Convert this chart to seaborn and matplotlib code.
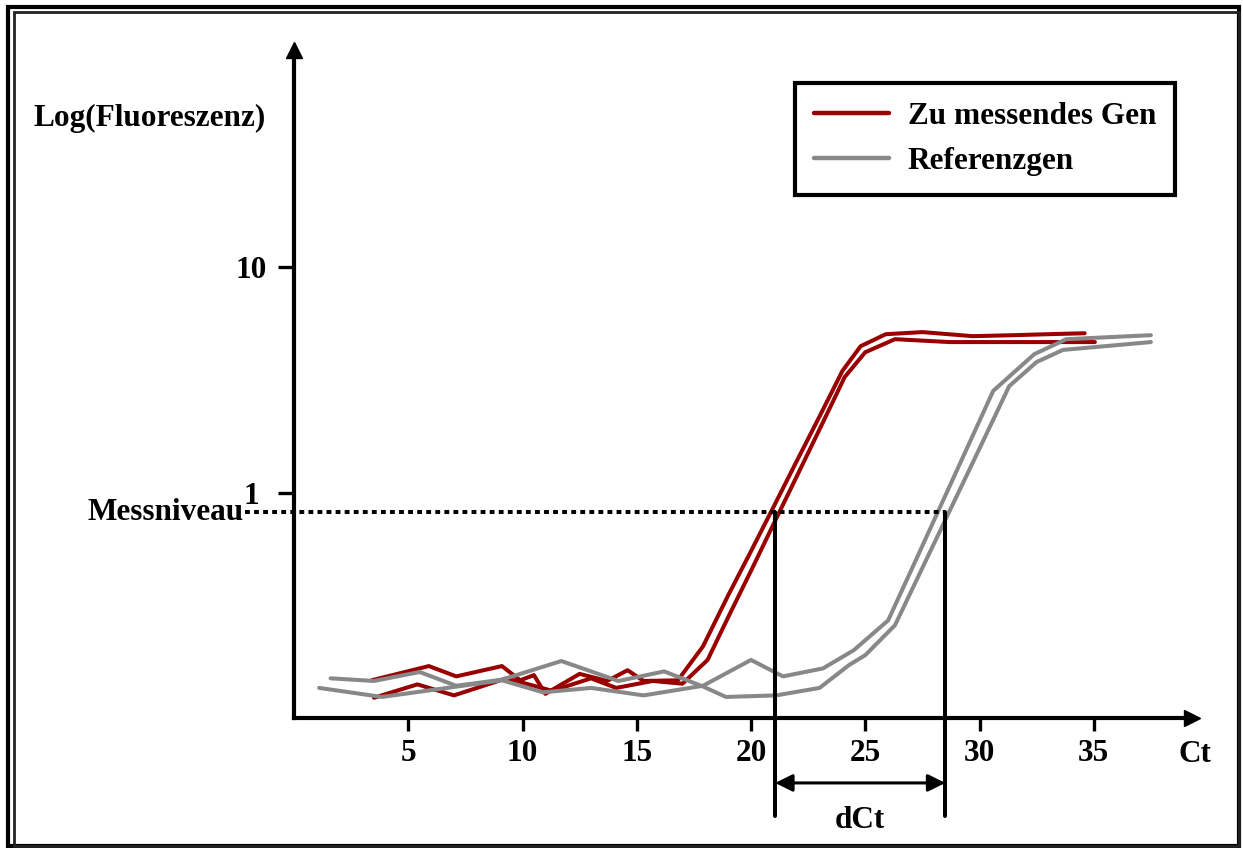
import numpy as np
import pandas as pd
import matplotlib
matplotlib.use("Agg")
import matplotlib.pyplot as plt
from matplotlib.patches import Rectangle
import seaborn as sns

# ---------------- data ----------------
genes = ["Zu messendes Gen", "Referenzgen"]
gene_colors = ["#990000", "#888888"]

red1_ct = [3.4, 5.9, 7.1, 9.1, 9.9, 10.5, 11.0, 12.5, 13.7, 14.6, 15.3, 16.8, 17.9,
           19.0, 20.0, 21.0, 22.0, 23.0, 24.0, 24.8, 25.9, 27.5, 29.7, 31.5, 33.0, 34.6]
red1_f = [0.147, 0.170, 0.153, 0.170, 0.147, 0.155, 0.128, 0.157, 0.146, 0.163, 0.146, 0.147, 0.208,
          0.35, 0.55, 0.87, 1.38, 2.18, 3.47, 4.47, 5.05, 5.16, 4.95, 5.0, 5.05, 5.1]

red2_ct = [3.5, 5.4, 7.0, 9.3, 11.3, 13.0, 14.1, 15.7, 17.0, 18.1,
           19.0, 20.0, 21.0, 22.0, 23.0, 24.1, 25.0, 26.3, 28.7, 35.05]
red2_f = [0.123, 0.141, 0.126, 0.150, 0.132, 0.150, 0.136, 0.146, 0.142, 0.181,
          0.28, 0.45, 0.73, 1.18, 1.91, 3.26, 4.2, 4.8, 4.66, 4.66]

gray1_ct = [1.1, 3.85, 9.1, 10.9, 13.0, 15.3, 17.9, 20.0, 21.4, 23.15, 24.5, 26.0,
            27.0, 28.0, 29.0, 30.6, 32.4, 33.8, 37.5]
gray1_f = [0.136, 0.124, 0.147, 0.130, 0.136, 0.126, 0.139, 0.181, 0.153, 0.166, 0.20, 0.271,
           0.45, 0.75, 1.25, 2.83, 4.12, 4.8, 5.0]

gray2_ct = [1.6, 3.5, 5.5, 7.1, 9.1, 11.7, 14.2, 16.2, 17.9, 18.9, 21.1, 23.0, 24.3, 25.0, 26.3,
            27.0, 28.0, 29.0, 30.0, 31.3, 32.5, 33.65, 37.5]
gray2_f = [0.150, 0.146, 0.160, 0.139, 0.148, 0.179, 0.146, 0.161, 0.138, 0.124, 0.126, 0.136,
           0.172, 0.190, 0.258, 0.363, 0.592, 0.964, 1.57, 2.97, 3.8, 4.3, 4.66]

threshold = 0.82
ct_gene = 21.06
ct_ref = 28.5
x_ticks = [5, 10, 15, 20, 25, 30, 35]
y_ticks = [1, 10]
y_ticklabels = ["1", "10"]

# ---------------- build long-form table ----------------
rows = []
for gene, rep, xs, ys in [(genes[0], "a", red1_ct, red1_f), (genes[0], "b", red2_ct, red2_f),
                          (genes[1], "a", gray1_ct, gray1_f), (genes[1], "b", gray2_ct, gray2_f)]:
    for xv, yv in zip(xs, ys):
        rows.append({"Ct": xv, "F": yv, "Gen": gene, "rep": rep})
df = pd.DataFrame(rows)

# ---------------- style ----------------
sns.set_style("white", {"xtick.bottom": True, "ytick.left": True})
plt.rcParams["font.family"] = ["Liberation Serif", "DejaVu Serif"]
plt.rcParams["font.weight"] = "bold"
for key in ["text.color", "axes.labelcolor", "xtick.color", "ytick.color", "axes.edgecolor"]:
    plt.rcParams[key] = "black"
FS = 22.5

W, H = 1243, 848
fig = plt.figure(figsize=(W / 100, H / 100), dpi=100)

x0, y0 = 294, 718      # axis origin in pixels
x1, ytop = 1192, 50    # axis ends in pixels
ax = fig.add_axes([x0 / W, (H - y0) / H, (x1 - x0) / W, (y0 - ytop) / H])

px_per_ct = 22.85
px_per_dec = 226.0
ax.set_yscale("log")
ax.set_xlim(0, (x1 - x0) / px_per_ct)
ax.set_ylim(0.1, 10 ** ((494 - ytop) / px_per_dec))

sns.lineplot(data=df, x="Ct", y="F", hue="Gen", units="rep", estimator=None,
             hue_order=genes, palette=dict(zip(genes, gene_colors)),
             lw=2.9, ax=ax, legend=True, sort=False)

# spines & arrows
for s in ["top", "right"]:
    ax.spines[s].set_visible(False)
for s in ["left", "bottom"]:
    ax.spines[s].set_linewidth(3)
    ax.spines[s].set_color("black")
ax.plot(1, 0, marker=">", ms=11, color="k", transform=ax.transAxes, clip_on=False)
ax.plot(0, 1, marker="^", ms=11, color="k", transform=ax.transAxes, clip_on=False)

ax.set_xticks(x_ticks)
ax.set_xticklabels([str(t) for t in x_ticks])
ax.set_yticks(y_ticks)
ax.set_yticklabels(y_ticklabels)
ax.yaxis.set_minor_locator(matplotlib.ticker.NullLocator())
ax.xaxis.set_minor_locator(matplotlib.ticker.NullLocator())
ax.tick_params(axis="x", which="major", bottom=True, direction="out", length=9, width=2.4,
               pad=6, labelsize=FS, colors="k")
ax.tick_params(axis="y", which="major", left=True, direction="out", length=11.5, width=2.4,
               pad=19, labelsize=FS, colors="k")
for lbl in ax.get_yticklabels():
    lbl.set_ha("center")
    lbl.set_fontweight("bold")
for lbl in ax.get_xticklabels():
    lbl.set_fontweight("bold")
ax.set_xlabel("")
ax.set_ylabel("")

# threshold, Ct markers
ax.plot([-2.14, ct_ref], [threshold, threshold], color="k", lw=2.9,
        linestyle=(0, (1.2, 1.05)), clip_on=False, zorder=5)
for c in [ct_gene, ct_ref]:
    ax.plot([c, c], [threshold, 0.0368], color="k", lw=2.9, clip_on=False, zorder=5)
ax.annotate("", xy=(ct_gene, 0.0515), xytext=(ct_ref, 0.0515),
            arrowprops=dict(arrowstyle="<|-|>", color="k", lw=2.2, mutation_scale=26,
                            shrinkA=0, shrinkB=0), annotation_clip=False)
ax.text((ct_gene + ct_ref) / 2, 0.0352, "dCt", ha="center", va="center",
        fontsize=FS, fontweight="bold", color="k")
ax.text(-2.2, threshold, "Messniveau", ha="right", va="center", fontsize=FS,
        fontweight="bold", color="k")

# axis titles
fig.text(33 / W, 1 - 118 / H, "Log(Fluoreszenz)", ha="left", va="center",
         fontsize=FS, fontweight="bold", color="k")
fig.text(1195 / W, 1 - 755 / H, "Ct", ha="center", va="center", fontsize=FS,
         fontweight="bold", color="k")

# legend
handles, labels = ax.get_legend_handles_labels()
for h in handles:
    h.set_linewidth(3.2)
leg = ax.legend(handles, labels, loc="upper left", bbox_to_anchor=(795 / W, 1 - 83 / H),
                bbox_transform=fig.transFigure, borderaxespad=0, frameon=True, fancybox=False,
                framealpha=1, prop={"size": FS, "weight": "bold"}, handlelength=2.4,
                handletextpad=0.6, labelspacing=0.52, borderpad=0.6, labelcolor="black")
leg.get_frame().set_edgecolor("black")
leg.get_frame().set_linewidth(3)

# figure frame
fig.patches.append(Rectangle((8 / W, 2 / H), 1231 / W, 839 / H, transform=fig.transFigure,
                             fill=False, edgecolor="black", lw=3, zorder=10))
fig.patches.append(Rectangle((13.5 / W, 2 / H), 1225 / W, 834 / H, transform=fig.transFigure,
                             fill=False, edgecolor="#222222", lw=2, zorder=10))

fig.savefig("out.png", dpi=100)
